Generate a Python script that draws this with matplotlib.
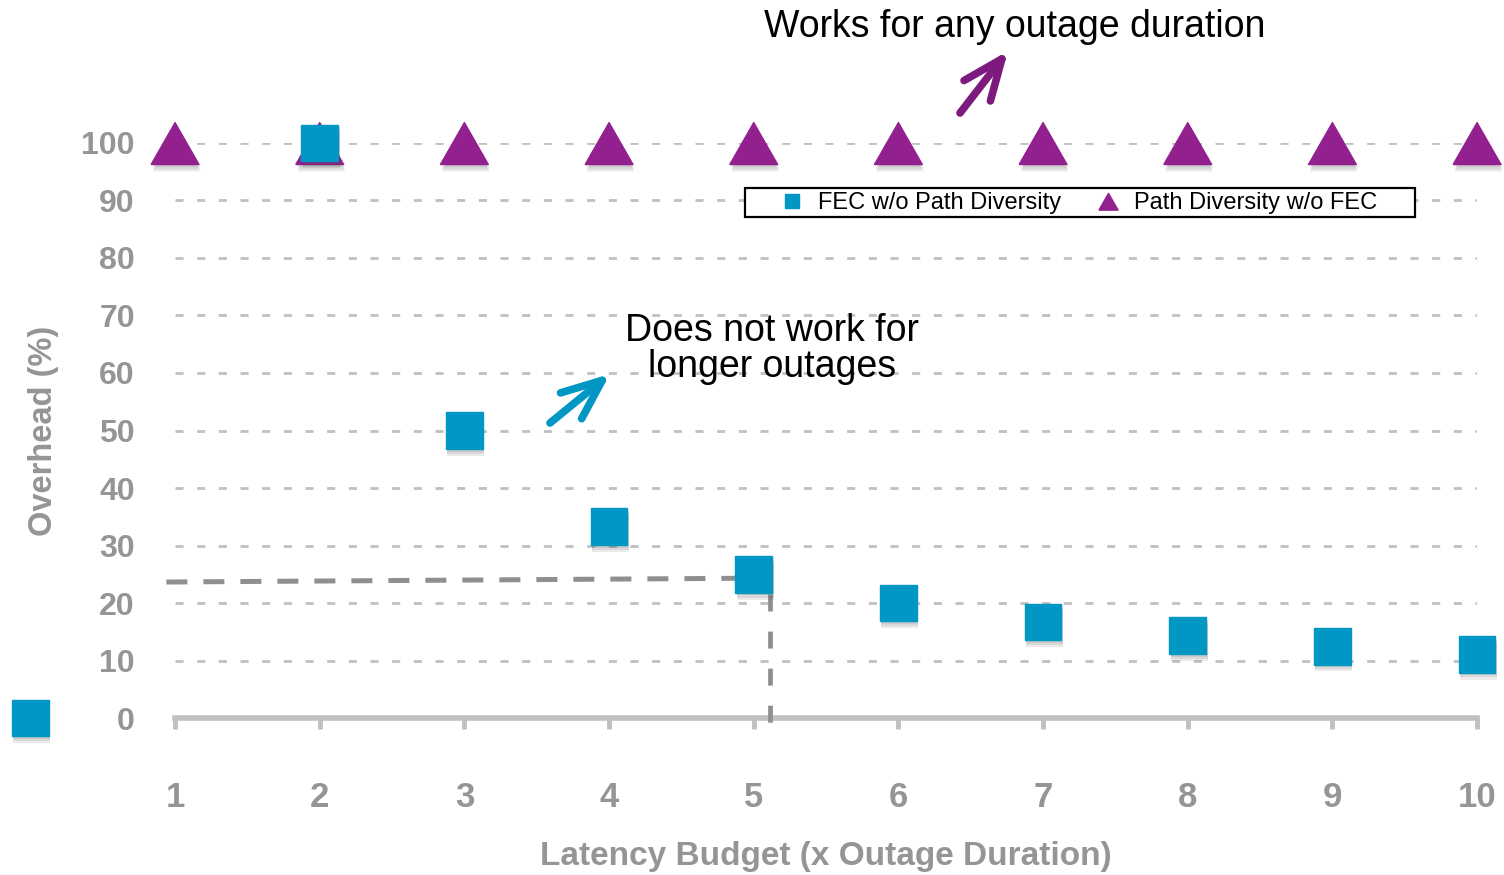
import matplotlib.pyplot as plt
import matplotlib.patheffects as pe
from matplotlib.patches import Rectangle

plt.rcParams['font.family'] = ['Liberation Sans', 'DejaVu Sans']

# latency budget (multiples of outage duration)
budget = [1, 2, 3, 4, 5, 6, 7, 8, 9, 10]
# overhead (%) of each scheme
fec_x = [0, 2, 3, 4, 5, 6, 7, 8, 9, 10]
fec_overhead = [0, 100, 50, 33.3, 25, 20, 16.7, 14.3, 12.5, 11.1]
pd_overhead = [100, 100, 100, 100, 100, 100, 100, 100, 100, 100]
yticks = [0, 10, 20, 30, 40, 50, 60, 70, 80, 90, 100]

blue = '#0097c4'
purple = '#93208f'
gray_txt = '#959595'
gray_ax = '#c0c0c0'

W, H = 1504, 875
fig = plt.figure(figsize=(W / 100, H / 100), dpi=100)
ax = fig.add_axes([0.1164, 0.1794, 0.8657, 0.6572])

# soft drop shadow under the markers
shadow = [pe.SimplePatchShadow(offset=(1, -o), shadow_rgbFace='#444444', alpha=0.1)
          for o in (2, 3.5, 5)] + [pe.Normal()]
tri = [(-1, -0.9), (1, -0.9), (0, 0.85), (-1, -0.9)]

ax.plot(budget, pd_overhead, linestyle='none', marker=tri, markersize=34.5,
        color=purple, clip_on=False, zorder=4, path_effects=shadow,
        label='Path Diversity w/o FEC')
ax.plot(fec_x, fec_overhead, linestyle='none', marker='s', markersize=26.5,
        color=blue, clip_on=False, zorder=5, path_effects=shadow,
        label='FEC w/o Path Diversity')

# reference lines for the 5x budget point
ax.plot([0.94, 4.88], [23.65, 24.3], color='#8f8f8f', lw=3.6, dashes=(4.2, 3.2),
        clip_on=False, zorder=3)
ax.plot([5.11, 5.11], [21.5, -1.2], color='#8f8f8f', lw=3.4, dashes=(3.6, 4.25),
        clip_on=False, zorder=3)

ax.set_xlim(1, 10)
ax.set_ylim(0, 100)
ax.set_xticks(budget)
ax.set_yticks(yticks)

ax.yaxis.grid(True, color=gray_ax, lw=2, dashes=(2.9, 4.9))
ax.set_axisbelow(True)
for s in ['top', 'right', 'left']:
    ax.spines[s].set_visible(False)
ax.spines['bottom'].set_color(gray_ax)
ax.spines['bottom'].set_linewidth(4)
ax.tick_params(axis='x', length=8, width=3.5, color=gray_ax, pad=37,
               labelsize=25, labelcolor=gray_txt)
ax.tick_params(axis='y', length=0, pad=29, labelsize=23, labelcolor=gray_txt)
for lbl in ax.get_xticklabels() + ax.get_yticklabels():
    lbl.set_fontweight('bold')

ax.set_xlabel('Latency Budget (x Outage Duration)', fontsize=24, fontweight='bold',
              color=gray_txt, labelpad=20)
ax.set_ylabel('Overhead (%)', fontsize=23.5, fontweight='bold', color=gray_txt, labelpad=16)

# legend with a hand-placed frame
handles, labels = ax.get_legend_handles_labels()
leg = ax.legend(handles[::-1], labels[::-1], ncol=2, loc='center left',
                bbox_to_anchor=(768 / W, 1 - 203 / H), bbox_transform=fig.transFigure,
                fontsize=17, markerscale=0.4, frameon=False, borderpad=0,
                handlelength=1.0, columnspacing=1.5, handletextpad=0.6)
leg.set_zorder(7)
for h in leg.legend_handles:
    h.set_path_effects([])
ax.add_patch(Rectangle((745 / W, 1 - 217 / H), 670 / W, 29 / H, transform=fig.transFigure,
                       facecolor='white', edgecolor='black', lw=1.6, clip_on=False, zorder=6))

fig.text(1015 / W, 1 - 27 / H, 'Works for any outage duration', fontsize=27,
         ha='center', va='center')
fig.text(772 / W, 1 - 349 / H, 'Does not work for\nlonger outages', fontsize=27,
         ha='center', va='center', linespacing=1.03)

arrow_style = '->,head_length=1.45,head_width=0.6'
ax.annotate('', xy=(1008 / W, 1 - 51 / H), xytext=(960 / W, 1 - 113 / H),
            xycoords='figure fraction', textcoords='figure fraction',
            arrowprops=dict(arrowstyle=arrow_style, mutation_scale=20, color='#7d1a7d',
                            lw=5.5, shrinkA=0, shrinkB=0, capstyle='round', joinstyle='round'))
ax.annotate('', xy=(610 / W, 1 - 374 / H), xytext=(550 / W, 1 - 423 / H),
            xycoords='figure fraction', textcoords='figure fraction',
            arrowprops=dict(arrowstyle=arrow_style, mutation_scale=20, color=blue,
                            lw=5.5, shrinkA=0, shrinkB=0, capstyle='round', joinstyle='round'))

fig.savefig('out.png', dpi=100)
